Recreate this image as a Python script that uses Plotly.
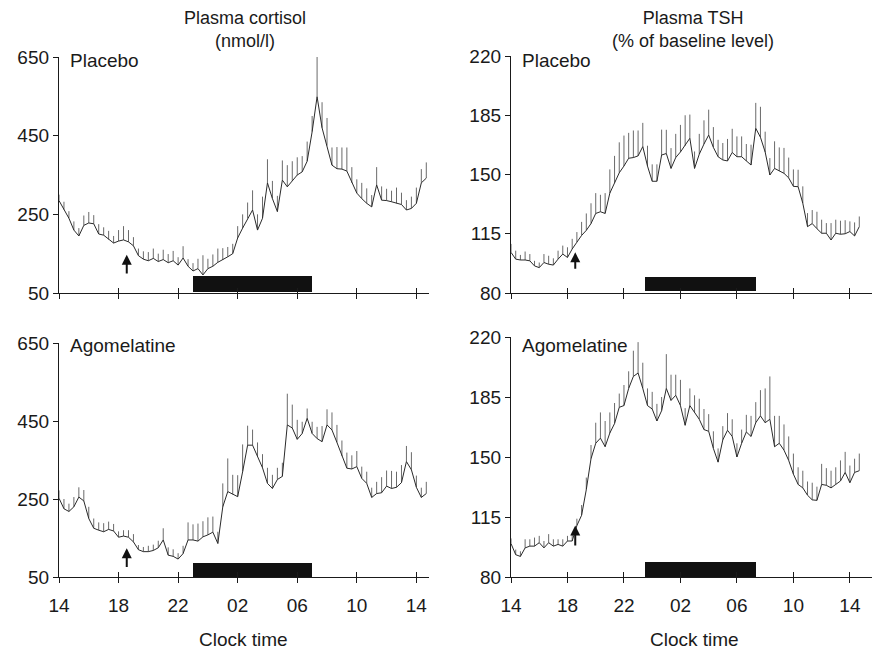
import plotly.graph_objects as go

# ---------------- data ----------------
SAMPLE_MINUTES = 20
START_HOUR = 14

cortisol_placebo = [285, 262, 240, 210, 195, 222, 228, 226, 200, 197, 186, 177, 182, 185, 180,
                    170, 145, 136, 132, 138, 130, 135, 127, 132, 121, 139, 118, 106, 112, 96,
                    112, 118, 128, 134, 142, 150, 190, 215, 240, 261, 210, 240, 330, 290, 257,
                    337, 320, 335, 350, 358, 385, 460, 549, 470, 425, 375, 366, 365, 360, 330,
                    304, 290, 278, 269, 325, 286, 285, 282, 278, 275, 261, 265, 278, 330, 342]
cortisol_placebo_err = [15, 20, 18, 22, 20, 25, 28, 22, 25, 20, 22, 18, 28, 35, 30,
                        22, 18, 20, 22, 25, 20, 25, 22, 25, 20, 30, 18, 20, 25, 50,
                        25, 30, 35, 30, 25, 25, 30, 35, 40, 50, 40, 55, 60, 45, 40,
                        50, 55, 50, 45, 40, 50, 40, 110, 65, 70, 45, 55, 55, 60, 40,
                        35, 40, 38, 30, 45, 35, 30, 28, 40, 30, 25, 30, 40, 35, 40]

cortisol_agomelatine = [252, 225, 218, 230, 255, 245, 200, 175, 170, 166, 172, 168, 152, 155, 152,
                        140, 120, 115, 115, 118, 125, 145, 106, 103, 96, 110, 145, 145, 142, 153,
                        158, 165, 136, 230, 269, 262, 256, 320, 388, 388, 360, 330, 290, 277, 300,
                        308, 440, 432, 403, 418, 457, 418, 405, 397, 440, 427, 395, 360, 329, 327,
                        333, 303, 290, 254, 264, 266, 283, 277, 280, 292, 346, 325, 280, 254, 264]
cortisol_agomelatine_err = [20, 25, 20, 25, 25, 28, 30, 25, 20, 22, 20, 18, 15, 15, 18,
                            20, 12, 12, 15, 15, 18, 30, 20, 18, 15, 20, 45, 40, 45, 40,
                            45, 40, 30, 60, 85, 50, 55, 70, 50, 40, 35, 35, 40, 35, 30,
                            35, 80, 60, 50, 30, 25, 30, 30, 40, 40, 45, 45, 40, 40, 35,
                            40, 30, 30, 25, 30, 40, 40, 45, 40, 45, 40, 45, 30, 25, 30]

tsh_placebo = [104, 100, 99.5, 99.5, 99, 96, 95, 98, 97, 96.5, 100, 103, 101, 106, 110,
               114, 117, 121, 127, 128, 127, 139, 145, 151, 155, 159.6, 160, 161, 166.5, 155,
               146, 146, 161.5, 162.4, 153.6, 160, 163.3, 167, 171.4, 153.6, 162, 168, 173.3, 166, 160.5,
               158.6, 158, 163, 160.5, 160.5, 158, 155.6, 177.3, 172, 163.3, 149.7, 153.6, 152, 150.7, 148,
               143, 142.8, 133, 119.2, 121, 118, 115.3, 115.3, 111.3, 115.3, 114.7, 115, 116.3, 113.7, 119.2]
tsh_placebo_err = [5, 5, 3, 5, 4, 3, 3, 5, 5, 4, 5, 5, 6, 6, 6,
                   8, 10, 12, 12, 10, 12, 14, 16, 18, 18, 15, 16, 15, 14, 12,
                   10, 10, 15, 14, 12, 14, 16, 18, 14, 10, 12, 14, 15, 12, 10,
                   10, 13, 14, 12, 12, 10, 12, 15, 18, 12, 10, 16, 14, 15, 12,
                   10, 10, 10, 8, 8, 10, 8, 6, 10, 8, 8, 8, 6, 8, 6]

tsh_agomelatine = [99.5, 93, 92, 97, 98, 98, 100, 97, 100, 98, 99, 98, 101, 101, 110,
                   116, 131, 149, 158, 161, 156, 164, 169.5, 179, 180, 190, 197, 199, 190, 180,
                   178, 171, 177, 190, 183, 186, 180, 168.5, 180, 176, 172, 166, 165, 155, 147,
                   160, 165.6, 162, 150, 158, 164.6, 162, 170, 174, 170, 172, 156, 158, 154, 148,
                   140, 134, 132, 127.7, 125, 124.7, 134, 133.5, 132, 134, 136, 141, 135, 141, 142]
tsh_agomelatine_err = [3, 3, 3, 5, 4, 5, 4, 4, 5, 4, 3, 4, 3, 4, 4,
                       6, 7, 8, 12, 15, 15, 12, 12, 8, 12, 10, 15, 18, 15, 10,
                       10, 10, 8, 20, 15, 12, 15, 10, 10, 10, 12, 12, 10, 10, 8,
                       8, 10, 10, 8, 8, 10, 12, 12, 15, 20, 25, 18, 16, 15, 14,
                       12, 10, 10, 8, 10, 8, 12, 10, 10, 10, 12, 12, 10, 8, 10]

# sleep periods (clock hours, continuing past 24) and drug administration time
cortisol_sleep = [23.0, 31.0]
tsh_sleep = [23.5, 31.33]
drug_time = 18.55

tick_hours = [14, 18, 22, 26, 30, 34, 38]
tick_labels = ["14", "18", "22", "02", "06", "10", "14"]

cortisol_ticks = [50, 250, 450, 650]
tsh_ticks = [80, 115, 150, 185, 220]

# ---------------- figure ----------------
FONT = "Liberation Sans, Arial, sans-serif"
INK = "#1a1a1a"
# the page places the figure 8 px from the window's top-left corner
OFF = 8
W, H = 880 - OFF, 654 - OFF

def px(x):
    return (x - OFF) / W

def py(y):
    return 1 - (y - OFF) / H

def times(n):
    return [START_HOUR + i * SAMPLE_MINUTES / 60 for i in range(n)]

fig = go.Figure()

panels = [
    # values, errors, xaxis, yaxis, sleep, bar base, bar height, arrow head, arrow tail
    (cortisol_placebo, cortisol_placebo_err, "x", "y", cortisol_sleep, 52, 40, 147, 96),
    (tsh_placebo, tsh_placebo_err, "x2", "y2", tsh_sleep, 81, 8.5, 104, 93.5),
    (cortisol_agomelatine, cortisol_agomelatine_err, "x3", "y3", cortisol_sleep, 50, 36, 124, 72),
    (tsh_agomelatine, tsh_agomelatine_err, "x4", "y4", tsh_sleep, 80, 8.5, 110, 97.5),
]

for vals, errs, xa, ya, sleep, bbase, bh, ahead, atail in panels:
    fig.add_trace(go.Bar(
        x=[(sleep[0] + sleep[1]) / 2], y=[bh], base=[bbase], width=[sleep[1] - sleep[0]],
        marker=dict(color="#111111", line=dict(width=0)),
        xaxis=xa, yaxis=ya, showlegend=False, hoverinfo="skip"))
    fig.add_trace(go.Scatter(
        x=times(len(vals)), y=vals, mode="lines",
        line=dict(color="#2a2a2a", width=1),
        error_y=dict(type="data", array=errs, arrayminus=[0] * len(errs), symmetric=False,
                     width=0, thickness=1, color="#6a6a6a"),
        xaxis=xa, yaxis=ya, showlegend=False, hoverinfo="skip"))
    fig.add_annotation(x=drug_time, y=ahead, ax=drug_time, ay=atail,
                       xref=xa, yref=ya, axref=xa, ayref=ya, text="",
                       showarrow=True, arrowhead=2, arrowsize=1, arrowwidth=2,
                       arrowcolor="#111111")

left_dom = [px(59), px(428.5)]
right_dom = [px(511), px(877)]
top_dom_l = [py(293), py(57)]
top_dom_r = [py(293), py(56)]
bot_dom_l = [py(577), py(343)]
bot_dom_r = [py(577), py(337)]

x_right_end = 14 + (877 - 511) / 14.12
x_left_end = 14 + (428.5 - 59) / 14.89

def xax(dom, rng, anchor, labels):
    return dict(domain=dom, range=rng, anchor=anchor, tickmode="array",
                tickvals=tick_hours, ticktext=tick_labels, showticklabels=labels,
                ticks="outside", ticklen=5, tickwidth=1.3, tickcolor=INK,
                showline=True, linecolor=INK, linewidth=1.3, showgrid=False, zeroline=False,
                tickfont=dict(family=FONT, size=19, color=INK), ticklabelstandoff=6,
                automargin=False, fixedrange=True)

def yax(dom, rng, anchor, ticks):
    return dict(domain=dom, range=rng, anchor=anchor, tickmode="array", tickvals=ticks,
                ticks="outside", ticklen=5, tickwidth=1.3, tickcolor=INK,
                showline=True, linecolor=INK, linewidth=1.3, showgrid=False, zeroline=False,
                tickfont=dict(family=FONT, size=19, color=INK), automargin=False,
                fixedrange=True)

fig.update_layout(
    template="none",
    width=W, height=H, margin=dict(l=0, r=0, t=0, b=0, pad=0),
    paper_bgcolor="white", plot_bgcolor="white",
    font=dict(family=FONT, size=19, color=INK),
    bargap=0,
    xaxis=xax(left_dom, [14, x_left_end], "y", False),
    yaxis=yax(top_dom_l, [50, 650], "x", cortisol_ticks),
    xaxis2=xax(right_dom, [14, x_right_end], "y2", False),
    yaxis2=yax(top_dom_r, [80, 220], "x2", tsh_ticks),
    xaxis3=xax(left_dom, [14, x_left_end], "y3", True),
    yaxis3=yax(bot_dom_l, [50, 650], "x3", cortisol_ticks),
    xaxis4=xax(right_dom, [14, x_right_end], "y4", True),
    yaxis4=yax(bot_dom_r, [80, 220], "x4", tsh_ticks),
)

# second set of x ticks pointing inward so the ticks cross the axis line
for k, (base, ya, dom, rng) in enumerate([("x", "y", left_dom, x_left_end),
                                           ("x2", "y2", right_dom, x_right_end),
                                           ("x3", "y3", left_dom, x_left_end),
                                           ("x4", "y4", right_dom, x_right_end)]):
    name = "xaxis%d" % (5 + k)
    fig.update_layout({name: dict(overlaying=base, anchor=ya, range=[14, rng],
                                  tickmode="array", tickvals=tick_hours, ticks="inside",
                                  ticklen=5, tickwidth=1.3, tickcolor=INK, showticklabels=False,
                                  showline=False, showgrid=False, zeroline=False,
                                  automargin=False, fixedrange=True)})
    fig.add_trace(go.Scatter(x=[], y=[], xaxis="x%d" % (5 + k), yaxis=ya,
                             showlegend=False, hoverinfo="skip"))

# titles
fig.add_annotation(text="Plasma cortisol<br>(nmol/l)", xref="paper", yref="paper",
                   x=px(245), y=py(29), showarrow=False, xanchor="center", yanchor="middle",
                   font=dict(family=FONT, size=18, color=INK))
fig.add_annotation(text="Plasma TSH<br>(% of baseline level)", xref="paper", yref="paper",
                   x=px(693), y=py(29), showarrow=False, xanchor="center", yanchor="middle",
                   font=dict(family=FONT, size=18, color=INK))

# panel labels
for xa, ya, txt, shift in [("x", "y", "Placebo", -4), ("x2", "y2", "Placebo", -5),
                           ("x3", "y3", "Agomelatine", -2), ("x4", "y4", "Agomelatine", -8)]:
    fig.add_annotation(text=txt, xref=xa + " domain", yref=ya + " domain", x=0.024, y=1,
                       yshift=shift, xanchor="left", yanchor="middle", showarrow=False,
                       font=dict(family=FONT, size=19, color=INK))

# x-axis titles
for cx in [(left_dom[0] + left_dom[1]) / 2, (right_dom[0] + right_dom[1]) / 2]:
    fig.add_annotation(text="Clock time", xref="paper", yref="paper", x=cx, y=py(639),
                       xanchor="center", yanchor="middle", showarrow=False,
                       font=dict(family=FONT, size=19, color=INK))

fig.write_html("out.html")
